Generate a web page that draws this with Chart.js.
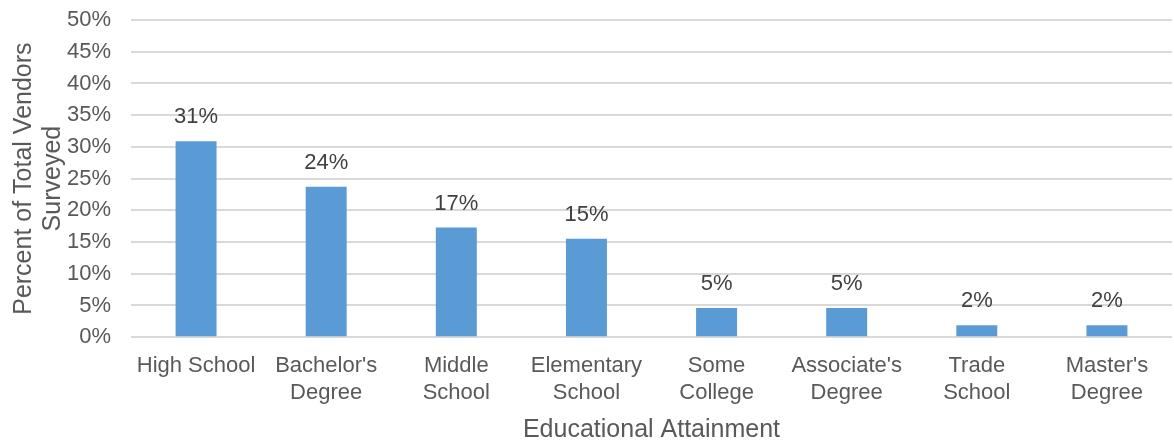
<!DOCTYPE html>
<html>
<head>
<meta charset="utf-8">
<script src="https://cdn.jsdelivr.net/npm/chart.js@4/dist/chart.umd.min.js"></script>
<style>
  html, body { margin: 0; padding: 0; background: #fff; }
  #wrap { width: 1174px; height: 440px; }
</style>
</head>
<body>
<div id="wrap"><canvas id="myChart"></canvas></div>
<script>
const labels = [
  'High School', ["Bachelor's", 'Degree'], ['Middle', 'School'], ['Elementary', 'School'],
  ['Some', 'College'], ["Associate's", 'Degree'], ['Trade', 'School'], ["Master's", 'Degree']
]
const values = [30.9, 23.7, 17.3, 15.5, 4.6, 4.6, 1.9, 1.9]
const valueLabels = ['31%', '24%', '17%', '15%', '5%', '5%', '2%', '2%']

const textColor = '#595959'
const fontFamily = "'Liberation Sans', Arial, sans-serif"

// labels above bars
const barLabels = {
  id: 'barLabels',
  afterDatasetsDraw(chart) {
    const ctx = chart.ctx
    const meta = chart.getDatasetMeta(0)
    ctx.save()
    ctx.font = '22px ' + fontFamily
    ctx.fillStyle = '#404040'
    ctx.textAlign = 'center'
    ctx.textBaseline = 'bottom'
    meta.data.forEach((bar, i) => {
      ctx.fillText(valueLabels[i], bar.x, bar.y - 13)
    })
    ctx.restore()
  }
}

const data = {
  labels: labels,
  datasets: [{
    data: values,
    backgroundColor: '#5B9BD5',
    borderWidth: 0,
    barPercentage: 0.315,
    categoryPercentage: 1
  }]
}

const config = {
  type: 'bar',
  data: data,
  options: {
    responsive: true,
    maintainAspectRatio: false,
    animation: false,
    layout: { padding: { top: 20, right: 2, left: 0, bottom: 0 } },
    plugins: { legend: { display: false }, tooltip: { enabled: false } },
    scales: {
      x: {
        grid: { display: false },
        border: { display: false },
        ticks: { color: textColor, font: { size: 22, family: fontFamily, lineHeight: 1.2 }, maxRotation: 0, autoSkip: false, padding: 8 },
        title: { display: true, text: 'Educational Attainment', color: textColor, font: { size: 25, family: fontFamily, lineHeight: 1 }, padding: { top: 4, bottom: -3 } }
      },
      y: {
        min: 0,
        max: 50,
        afterFit: s => { s.width = 131; s.paddingTop = 0 },
        grid: { color: '#d9d9d9', lineWidth: 2, drawTicks: false },
        border: { display: false },
        ticks: { stepSize: 5, color: textColor, font: { size: 22, family: fontFamily }, padding: 20, callback: v => v + '%' },
        title: { display: true, text: ['Percent of Total Vendors', 'Surveyed'], color: textColor, font: { size: 25, family: fontFamily, lineHeight: 1.15 }, padding: { top: 10, bottom: 0 } }
      }
    }
  },
  plugins: [barLabels]
}

const myChart = new Chart(document.getElementById('myChart'), config)
</script>
</body>
</html>
